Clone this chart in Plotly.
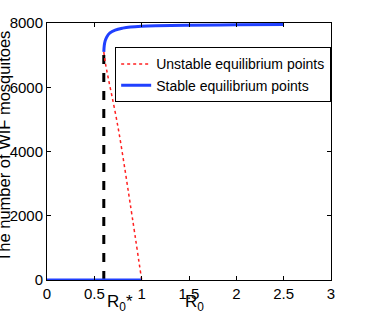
import plotly.graph_objects as go

# Stable branch (upper), R0 values and WIF mosquito counts
stable_hi_x = [0.6, 0.605, 0.615, 0.63, 0.665, 0.72, 0.8, 0.88, 1.0, 1.15, 1.5, 2.0, 2.5]
stable_hi_y = [7100, 7300, 7450, 7560, 7690, 7780, 7840, 7875, 7900, 7915, 7930, 7945, 7950]
# Stable branch (lower, zero)
stable_lo_x = [0.0, 1.0]
stable_lo_y = [0, 0]
# Unstable branch
unstable_x = [0.6, 0.62, 0.75, 0.876, 1.0]
unstable_y = [7100, 6700, 4760, 2430, 0]
# Threshold R0*
r0_star = 0.6
r0_star_y = [0, 7050]

xticks = [0, 0.5, 1, 1.5, 2, 2.5, 3]
yticks = [0, 2000, 4000, 6000, 8000]

fam = "Liberation Sans, Arial, sans-serif"
narrow = "Liberation Sans Narrow, Arial Narrow, Liberation Sans, sans-serif"
tickfont = dict(family=narrow, size=15, color="black")

fig = go.Figure()
fig.add_trace(go.Scatter(x=[r0_star, r0_star], y=r0_star_y, mode="lines",
                         line=dict(color="black", width=3, dash="dash"), showlegend=False))
fig.add_trace(go.Scatter(x=unstable_x, y=unstable_y, mode="lines",
                         line=dict(color="#ff2020", width=1.5, dash="dot", shape="spline"),
                         name="Unstable equilibrium points"))
fig.add_trace(go.Scatter(x=stable_hi_x, y=stable_hi_y, mode="lines",
                         line=dict(color="#2040ff", width=3, shape="spline"),
                         name="Stable equilibrium points"))
fig.add_trace(go.Scatter(x=stable_lo_x, y=stable_lo_y, mode="lines",
                         line=dict(color="#2040ff", width=3), showlegend=False))

fig.update_layout(
    width=365, height=316,
    margin=dict(l=47, r=34, t=23, b=36),
    paper_bgcolor="white", plot_bgcolor="white",
    font=dict(family=fam, size=14, color="black"),
    legend=dict(x=0.24, y=0.905, xanchor="left", yanchor="top",
                bordercolor="black", borderwidth=1, bgcolor="white",
                font=dict(family=fam, size=14), tracegroupgap=0, itemwidth=30),
    xaxis=dict(range=[0, 3], tickvals=xticks, ticktext=[str(t) for t in xticks],
               showgrid=False, zeroline=False, showline=True, linecolor="black",
               linewidth=1, mirror="ticks", ticks="inside", ticklen=4,
               tickcolor="black", tickfont=tickfont, automargin=False),
    yaxis=dict(range=[0, 8000], tickvals=yticks, ticktext=[str(t) for t in yticks],
               showgrid=False, zeroline=False, showline=True, linecolor="black",
               linewidth=1, mirror="ticks", ticks="inside", ticklen=4,
               tickcolor="black", tickfont=tickfont, automargin=False),
    annotations=[
        dict(text="The number of WIF mosquitoes", textangle=-90, xref="paper", yref="paper",
             x=-0.15, y=0.52, xanchor="center", yanchor="middle", showarrow=False,
             font=dict(family=fam, size=16.5, color="black")),
        dict(text="R<sub>0</sub>*", xref="x", yref="paper", x=0.615, y=-0.04,
             xanchor="left", yanchor="top", showarrow=False,
             font=dict(family=narrow, size=17, color="black")),
        dict(text="R<sub>0</sub>", xref="x", yref="paper", x=1.56, y=-0.04,
             xanchor="center", yanchor="top", showarrow=False,
             font=dict(family=narrow, size=17, color="black")),
    ],
)

fig.write_html("out.html", config={"displayModeBar": False},
               post_script="document.body.style.margin='0';")
